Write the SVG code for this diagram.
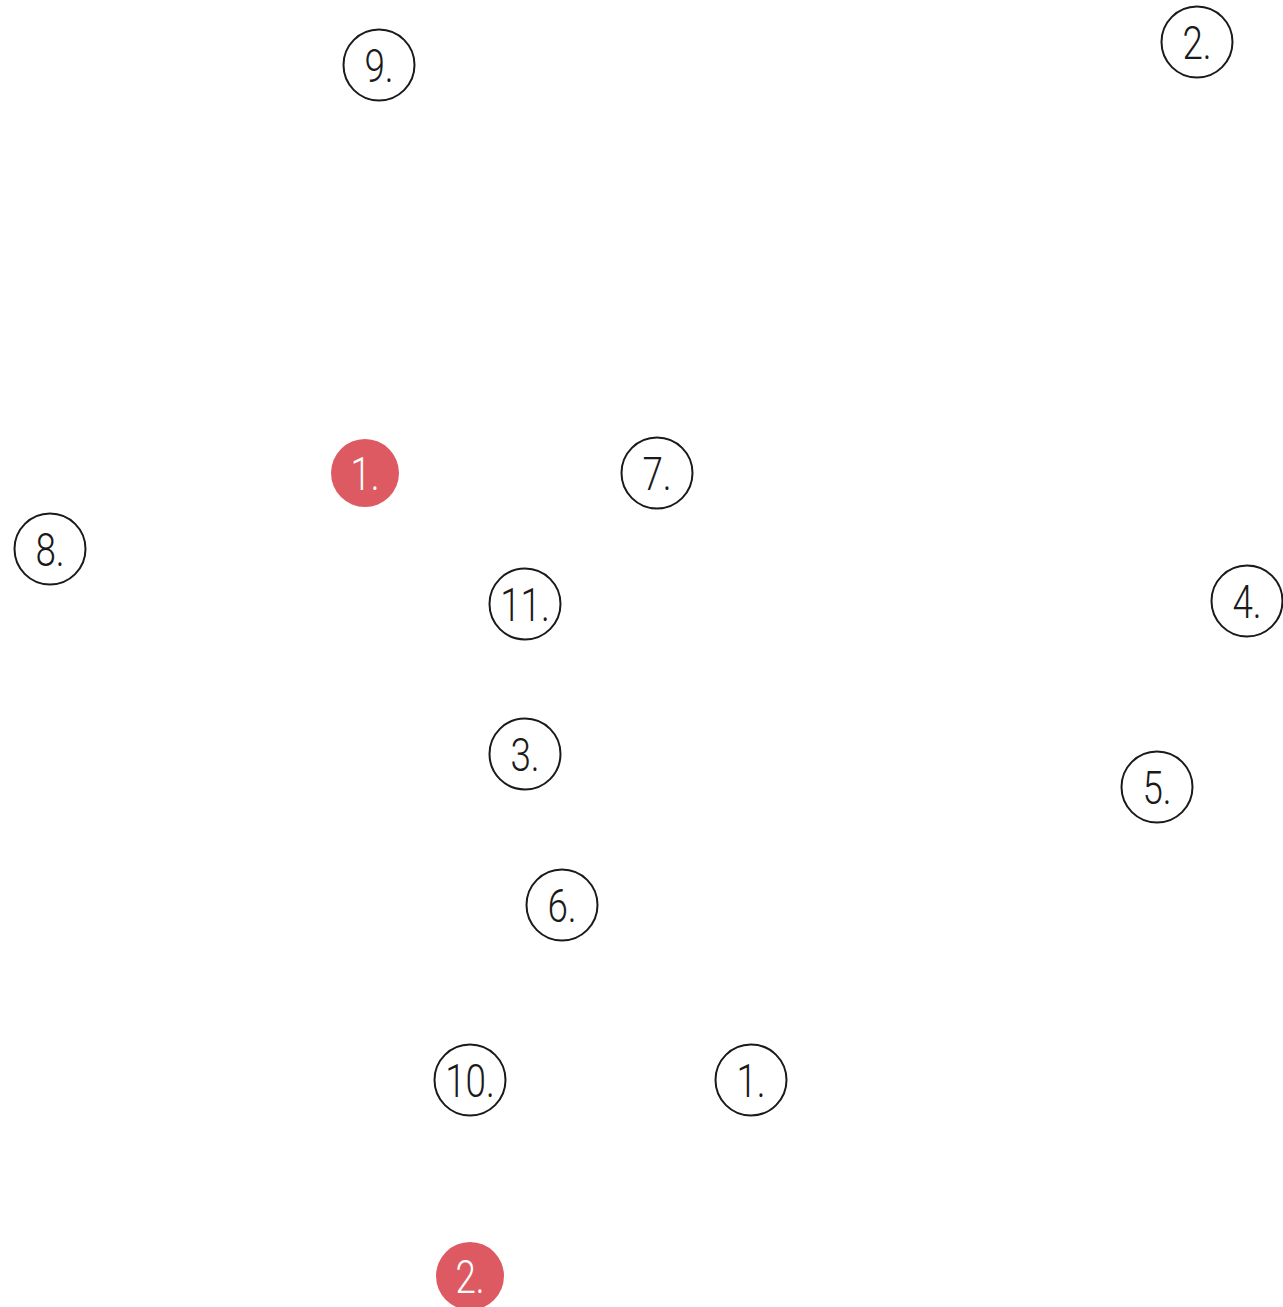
<svg xmlns="http://www.w3.org/2000/svg" width="1283" height="1307" viewBox="0 0 1283 1307">
<style>
.c{fill:#fff;stroke:#1a1a1a;stroke-width:2}
.r{fill:#de5a62;stroke:none}
.t{font-family:Roboto,"Liberation Sans",sans-serif;font-weight:300;font-size:46px;fill:#1a1a1a;text-anchor:middle}
.w{fill:#fff}
</style>
<rect width="1283" height="1307" fill="#fff"/>
<g id="connectors"></g>
<g id="n9"><circle class="c" cx="379" cy="65" r="35.5"/><text class="t" transform="translate(379,82) scale(0.8,1)">9.</text></g>
<g id="n2a"><circle class="c" cx="1197" cy="42" r="35.5"/><text class="t" transform="translate(1197,59) scale(0.8,1)">2.</text></g>
<g id="n1r"><circle class="r" cx="365" cy="473" r="34"/><text class="t w" transform="translate(365,490) scale(0.8,1)">1.</text></g>
<g id="n7"><circle class="c" cx="657" cy="473" r="35.5"/><text class="t" transform="translate(657,490) scale(0.8,1)">7.</text></g>
<g id="n8"><circle class="c" cx="50" cy="549" r="35.5"/><text class="t" transform="translate(50,566) scale(0.8,1)">8.</text></g>
<g id="n11"><circle class="c" cx="525" cy="604" r="35.5"/><text class="t" transform="translate(525,621) scale(0.8,1)">11.</text></g>
<g id="n4"><circle class="c" cx="1247" cy="601" r="35.5"/><text class="t" transform="translate(1247,618) scale(0.8,1)">4.</text></g>
<g id="n3"><circle class="c" cx="525" cy="754" r="35.5"/><text class="t" transform="translate(525,771) scale(0.8,1)">3.</text></g>
<g id="n5"><circle class="c" cx="1157" cy="787" r="35.5"/><text class="t" transform="translate(1157,804) scale(0.8,1)">5.</text></g>
<g id="n6"><circle class="c" cx="562" cy="905" r="35.5"/><text class="t" transform="translate(562,922) scale(0.8,1)">6.</text></g>
<g id="n10"><circle class="c" cx="470" cy="1080" r="35.5"/><text class="t" transform="translate(470,1097) scale(0.8,1)">10.</text></g>
<g id="n1"><circle class="c" cx="751" cy="1080" r="35.5"/><text class="t" transform="translate(751,1097) scale(0.8,1)">1.</text></g>
<g id="n2r"><circle class="r" cx="470" cy="1276" r="34"/><text class="t w" transform="translate(470,1293) scale(0.8,1)">2.</text></g>
</svg>
